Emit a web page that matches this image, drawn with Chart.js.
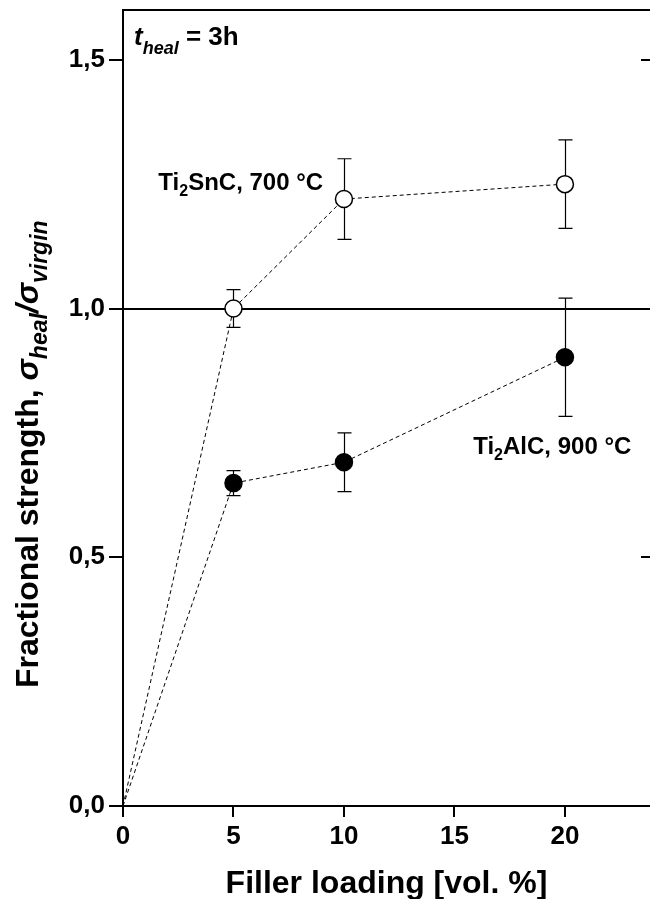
<!DOCTYPE html>
<html><head><meta charset="utf-8">
<script src="https://cdn.jsdelivr.net/npm/chart.js@4.4.0/dist/chart.umd.min.js"></script>
<style>html,body{margin:0;padding:0;background:#fff;overflow:hidden}#wrap{width:650px;height:899px;position:relative}canvas{display:block}</style>
</head><body><div id="wrap"><canvas id="c" width="650" height="899"></canvas></div>
<script>
// ---- data ----
const fillerLoading = [0, 5, 10, 20];
const ti2sncStrength = [0, 1.00, 1.22, 1.25];
const ti2sncError = [0, 0.038, 0.081, 0.089];
const ti2alcStrength = [0, 0.649, 0.691, 0.902];
const ti2alcError = [0, 0.025, 0.059, 0.119];
const xTickValues = [0, 5, 10, 15, 20];
const yTickValues = [0, 0.5, 1.0, 1.5];
const referenceLevel = 1.0;
const sncLabel = [['Ti', false], ['2', true], ['SnC, 700 °C', false]];
const alcLabel = [['Ti', false], ['2', true], ['AlC, 900 °C', false]];
const xTitle = 'Filler loading [vol. %]';

const FAM = "'Liberation Sans', Arial, Helvetica, sans-serif";
const pts = (xs, ys) => xs.map((v, i) => ({x: v, y: ys[i]}));

function drawParts(ctx, parts, x, y) {
  let cx = x;
  for (const p of parts) {
    ctx.font = p.f;
    ctx.fillText(p.t, cx, y + (p.dy || 0));
    cx += ctx.measureText(p.t).width;
  }
  return cx - x;
}
function labelParts(lbl, size) {
  return lbl.map(([t, sub]) => sub ? {t, f: `bold ${Math.round(size*0.68)}px ${FAM}`, dy: 6} : {t, f: `bold ${size}px ${FAM}`});
}

const decor = {
  id: 'decor',
  beforeDatasetsDraw(chart) {
    const {ctx, chartArea: a, scales: {x, y}} = chart;
    ctx.save();
    ctx.strokeStyle = '#000';
    ctx.lineWidth = 2;
    const yr = Math.round(y.getPixelForValue(referenceLevel));
    ctx.beginPath(); ctx.moveTo(a.left, yr); ctx.lineTo(a.right, yr); ctx.stroke();
    ctx.lineWidth = 1.2;
    chart.data.datasets.forEach(ds => {
      ds.data.forEach((p, i) => {
        const e = ds.errors[i];
        if (!e) return;
        const px = Math.round(x.getPixelForValue(p.x)) + 0.5;
        const t = y.getPixelForValue(p.y + e), b = y.getPixelForValue(p.y - e);
        ctx.beginPath();
        ctx.moveTo(px, t); ctx.lineTo(px, b);
        ctx.moveTo(px - 7, t); ctx.lineTo(px + 7, t);
        ctx.moveTo(px - 7, b); ctx.lineTo(px + 7, b);
        ctx.stroke();
      });
    });
    ctx.restore();
  },
  afterDraw(chart) {
    const {ctx, chartArea: a, scales: {x, y}} = chart;
    ctx.save();
    ctx.strokeStyle = '#000';
    ctx.lineWidth = 2;
    // top frame
    ctx.beginPath(); ctx.moveTo(a.left - 1, a.top); ctx.lineTo(a.right, a.top); ctx.stroke();
    // right inner ticks
    yTickValues.forEach(v => {
      const py = Math.round(y.getPixelForValue(v));
      ctx.beginPath(); ctx.moveTo(a.right - 9, py); ctx.lineTo(a.right, py); ctx.stroke();
    });
    ctx.fillStyle = '#000';
    ctx.textBaseline = 'alphabetic';
    // t_heal annotation
    drawParts(ctx, [
      {t: 't', f: `italic bold 26px ${FAM}`},
      {t: 'heal', f: `italic bold 18px ${FAM}`, dy: 9},
      {t: ' = 3h', f: `bold 26px ${FAM}`}
    ], a.left + 11, a.top + 35);
    // series labels (anchored to data coordinates)
    drawParts(ctx, labelParts(sncLabel, 24), x.getPixelForValue(1.6), y.getPixelForValue(1.238));
    drawParts(ctx, labelParts(alcLabel, 24), x.getPixelForValue(15.85), y.getPixelForValue(0.708));
    // x title
    ctx.font = `bold 32px ${FAM}`;
    ctx.textAlign = 'center';
    ctx.fillText(xTitle, (a.left + a.right) / 2, 893);
    ctx.textAlign = 'left';
    // y title (rotated, rich)
    ctx.translate(38, 688);
    ctx.rotate(-Math.PI / 2);
    drawParts(ctx, [
      {t: 'Fractional strength, ', f: `bold 32px ${FAM}`},
      {t: 'σ', f: `italic bold 32px ${FAM}`},
      {t: 'heal', f: `italic bold 23px ${FAM}`, dy: 9},
      {t: '/', f: `italic bold 32px ${FAM}`},
      {t: 'σ', f: `italic bold 32px ${FAM}`},
      {t: 'virgin', f: `italic bold 23px ${FAM}`, dy: 9}
    ], 0, 0);
    ctx.restore();
  }
};

const tickFont = {family: FAM, size: 26, weight: 'bold'};

new Chart(document.getElementById('c'), {
  type: 'scatter',
  data: {
    datasets: [
      {
        data: pts(fillerLoading, ti2sncStrength), errors: ti2sncError,
        showLine: true, borderColor: '#000', borderWidth: 1, borderDash: [4, 3],
        pointRadius: c => c.dataIndex === 0 ? 0 : 8.5,
        pointBackgroundColor: '#fff', pointBorderColor: '#000', pointBorderWidth: 1.5
      },
      {
        data: pts(fillerLoading, ti2alcStrength), errors: ti2alcError,
        showLine: true, borderColor: '#000', borderWidth: 1, borderDash: [4, 3],
        pointRadius: c => c.dataIndex === 0 ? 0 : 8.5,
        pointBackgroundColor: '#000', pointBorderColor: '#000', pointBorderWidth: 1.5
      }
    ]
  },
  options: {
    responsive: false, animation: false,
    layout: {autoPadding: false, padding: {left: 0, right: 0, top: 10, bottom: 0}},
    plugins: {legend: {display: false}, tooltip: {enabled: false}},
    scales: {
      x: {
        type: 'linear', min: 0, max: 23.85,
        afterBuildTicks: s => { s.ticks = xTickValues.map(v => ({value: v})); },
        afterFit: s => { s.height = 93; s.paddingLeft = 0; s.paddingRight = 0; },
        ticks: {font: tickFont, color: '#000', padding: 4, maxRotation: 0, autoSkip: false, callback: v => String(v)},
        grid: {drawOnChartArea: false, drawTicks: true, tickLength: 11, color: '#000', lineWidth: 2},
        border: {color: '#000', width: 2}
      },
      y: {
        type: 'linear', min: 0, max: 1.6,
        afterBuildTicks: s => { s.ticks = yTickValues.map(v => ({value: v})); },
        afterFit: s => { s.width = 123; s.paddingTop = 0; s.paddingBottom = 0; },
        ticks: {font: tickFont, color: '#000', padding: 4, autoSkip: false, callback: v => v.toFixed(1).replace('.', ',')},
        grid: {drawOnChartArea: false, drawTicks: true, tickLength: 14, color: '#000', lineWidth: 2},
        border: {color: '#000', width: 2}
      }
    }
  },
  plugins: [decor]
});
</script>
</body></html>
